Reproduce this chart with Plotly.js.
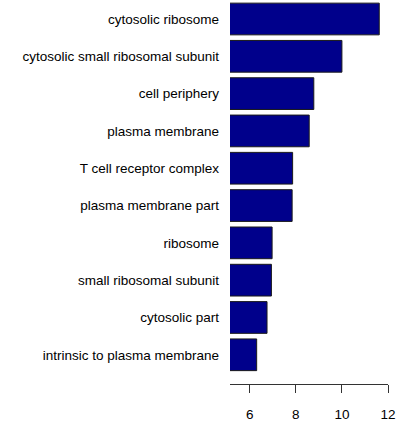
<!DOCTYPE html>
<html>
<head>
<meta charset="utf-8">
<script src="https://cdn.plot.ly/plotly-3.0.1.min.js"></script>
<style>html,body{margin:0;padding:0;background:#fff;}#chart{width:418px;height:428px;}</style>
</head>
<body>
<div id="chart"></div>
<script>
var categories = ["cytosolic ribosome","cytosolic small ribosomal subunit","cell periphery","plasma membrane","T cell receptor complex","plasma membrane part","ribosome","small ribosomal subunit","cytosolic part","intrinsic to plasma membrane"];
var values = [11.62, 10.0, 8.78, 8.58, 7.86, 7.84, 6.97, 6.94, 6.75, 6.30];
var tickValues = [6, 8, 10, 12];
var tickLabels = ["6", "8", "10", "12"];

var trace = {
  type: 'bar',
  orientation: 'h',
  y: categories,
  x: values,
  marker: {color: '#00008B', line: {color: '#1a1a1a', width: 1}},
  hoverinfo: 'none'
};
var layout = {
  width: 418, height: 428,
  margin: {l: 230, r: 30, t: 0, b: 44},
  paper_bgcolor: '#fff', plot_bgcolor: '#fff',
  bargap: 0.15,
  showlegend: false,
  font: {family: 'Liberation Sans, Arial, sans-serif', size: 13.5, color: '#000'},
  xaxis: {
    range: [5.143, 12.0],
    tickvals: tickValues, ticktext: tickLabels,
    showgrid: false, zeroline: false,
    showline: true, linecolor: '#333', linewidth: 1,
    ticks: 'outside', ticklen: 8, tickcolor: '#333', tickwidth: 1,
    tickfont: {size: 13.5, family: 'Liberation Sans, Arial, sans-serif', color: '#000'},
    ticklabelstandoff: 10,
    fixedrange: true
  },
  yaxis: {
    type: 'category',
    range: [9.783, -0.509],
    showgrid: false, zeroline: false, showline: false,
    ticks: '', ticklabelstandoff: 10,
    tickfont: {size: 13.5, family: 'Liberation Sans, Arial, sans-serif', color: '#000'},
    fixedrange: true
  }
};
Plotly.newPlot('chart', [trace], layout, {displayModeBar: false, staticPlot: true});
</script>
</body>
</html>
